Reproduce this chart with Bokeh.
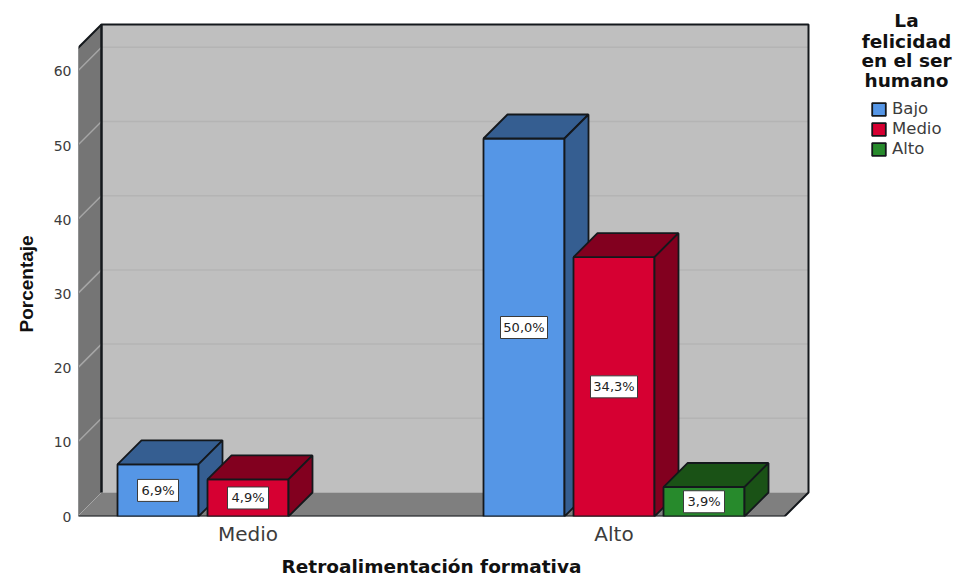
from bokeh.plotting import figure
from bokeh.embed import file_html
from bokeh.resources import INLINE
from bokeh.models import Range1d, FixedTicker, Legend, LegendItem, Title
from bokeh.core.properties import value

categories = ["Medio", "Alto"]
series_names = ["Bajo", "Medio", "Alto"]
bajo = [6.9, 50.0]
medio = [4.9, 34.3]
alto = [None, 3.9]
tick_values = [0, 10, 20, 30, 40, 50, 60]
x_title = "Retroalimentación formativa"
y_title = "Porcentaje"
legend_title = ["La", "felicidad", "en el ser", "humano"]

front_colors = ["#5596E6", "#D60032", "#278A2C"]
dark_colors = ["#355E91", "#82001F", "#1A5216"]
EDGE = "#14181c"
TEXT = "#3c3c3c"

# layout, in window pixels (the page that file_html writes has no body margin)
CANVAS_W, CANVAS_H = 955, 582
FRAME_L, FRAME_B, FRAME_T = 78, 516, 0
FRAME_R = 955
CAT_PX = [248.5, 614.5]
PX_PER_CAT = CAT_PX[1] - CAT_PX[0]
AXIS_PX_PER_UNIT = 7.42
BAR_PX_PER_UNIT = 7.56
DEPTH_PX = 24
BAR_W_PX = 81
SLOT_PX = 90


def px_x(px):
    return 1 + (px - CAT_PX[0]) / PX_PER_CAT


def px_y(px):
    return (FRAME_B - px) / AXIS_PX_PER_UNIT


p = figure(
    width=CANVAS_W, height=CANVAS_H, output_backend="svg", toolbar_location=None,
    x_range=Range1d(px_x(FRAME_L + 1), px_x(FRAME_R + 1)),
    y_range=Range1d(0, px_y(FRAME_T)),
    min_border_left=FRAME_L, min_border_right=0, min_border_top=0,
    min_border_bottom=CANVAS_H - FRAME_B,
    x_axis_location="below", y_axis_location="left",
    outline_line_color=None, background_fill_color="white", border_fill_color="white",
)
p.extra_y_ranges = {"bars": Range1d(0, (FRAME_B - FRAME_T) / BAR_PX_PER_UNIT)}
p.grid.visible = False

xax = p.xaxis[0]
xax.ticker = FixedTicker(ticks=[1, 2])
xax.major_label_overrides = {1: categories[0], 2: categories[1]}
xax.major_label_text_font = "DejaVu Sans"
xax.major_label_text_font_size = "20px"
xax.major_label_text_color = TEXT
xax.major_label_standoff = 5
xax.axis_line_color = None
xax.major_tick_line_color = None
xax.minor_tick_line_color = None
xax.major_tick_out = 0
xax.major_tick_in = 0
xax.minor_tick_out = 0

yax = p.yaxis[0]
yax.ticker = FixedTicker(ticks=tick_values)
yax.major_label_text_font = "DejaVu Sans"
yax.major_label_text_font_size = "14px"
yax.major_label_text_color = TEXT
yax.major_label_standoff = 7
yax.axis_line_color = None
yax.major_tick_line_color = None
yax.minor_tick_line_color = None
yax.major_tick_out = 0
yax.major_tick_in = 0
yax.minor_tick_out = 0

p.add_layout(Title(text=x_title, align="left", offset=203, standoff=11, vertical_align="bottom",
                   text_font="DejaVu Sans", text_font_style="bold",
                   text_font_size="18.5px", text_color="#111111"), "below")
p.add_layout(Title(text=y_title, align="left", offset=184, standoff=27, vertical_align="bottom",
                   text_font="Liberation Sans", text_font_style="bold",
                   text_font_size="19px", text_color="#111111"), "left")

# chart box: walls and floor
dx = DEPTH_PX / PX_PER_CAT
dy = DEPTH_PX / AXIS_PX_PER_UNIT
xl, xr = px_x(78), px_x(785)
top = px_y(48)
p.patch([xl + dx, xr + dx, xr + dx, xl + dx], [dy, dy, top + dy, top + dy],
        fill_color="#BFBFBF", line_color=None)
p.patch([xl, xl + dx, xl + dx, xl], [0, dy, top + dy, top],
        fill_color="#757575", line_color=None)
p.patch([xl, xr, xr + dx, xl + dx], [0, 0, dy, dy],
        fill_color="#7F7F7F", line_color=None)

grid = [t for t in tick_values if t > 0]
p.multi_line([[xl + dx, xr + dx] for _ in grid], [[t + dy, t + dy] for t in grid],
             line_color="#B4B4B4", line_width=1.5)
p.multi_line([[xl, xl + dx] for _ in grid], [[t, t + dy] for t in grid],
             line_color="#A6A6A6", line_width=1.5)
p.line([xl, xl + dx], [0, dy], line_color="#A6A6A6", line_width=1)

p.line([xl, xl, xl + dx, xr + dx, xr + dx, xr, xl],
       [0, top, top + dy, top + dy, dy, 0, 0], line_color=EDGE, line_width=2)
p.line([xl + dx, xl + dx], [dy, top + dy], line_color=EDGE, line_width=2.5)

# bars
all_values = [bajo, medio, alto]
bw = BAR_W_PX / PX_PER_CAT
slot = SLOT_PX / PX_PER_CAT
bdy = DEPTH_PX / BAR_PX_PER_UNIT
fronts = {}
label_x, label_y, label_t, label_w = [], [], [], []
for c in range(len(categories)):
    for s in range(3):
        v = all_values[s][c]
        if v is None:
            continue
        x0 = c + 1 + (s - 1) * slot - bw / 2
        x1 = x0 + bw
        r = p.quad(left=[x0], right=[x1], bottom=[0], top=[v], y_range_name="bars",
                   fill_color=front_colors[s], line_color=EDGE, line_width=1.8)
        fronts.setdefault(s, r)
        p.patch([x0, x1, x1 + dx, x0 + dx], [v, v, v + bdy, v + bdy], y_range_name="bars",
                fill_color=dark_colors[s], line_color=EDGE, line_width=1.8)
        p.patch([x1, x1 + dx, x1 + dx, x1], [0, bdy, v + bdy, v], y_range_name="bars",
                fill_color=dark_colors[s], line_color=EDGE, line_width=1.8)
        t = f"{v:.1f}%".replace(".", ",")
        label_x.append((x0 + x1) / 2)
        label_y.append(v / 2)
        label_t.append(t)
        label_w.append(17 + 6 * len(t))

p.rect(label_x, label_y, width=label_w, height=22, width_units="screen", height_units="screen",
       y_range_name="bars", fill_color="white", line_color="#3a3a3a", line_width=1)
p.text(label_x, label_y, text=label_t, y_range_name="bars", text_align="center",
       text_baseline="middle", text_font=value("DejaVu Sans"), text_font_size="13px",
       text_color="#222222")

# legend
legend_line_px = [20, 41, 60, 80]
p.text([px_x(907)] * 4, [px_y(v) for v in legend_line_px], text=legend_title,
       text_align="center", text_baseline="middle", text_font=value("DejaVu Sans"),
       text_font_style="bold", text_font_size="18.5px", text_color="#111111")
legend = Legend(
    items=[LegendItem(label=series_names[s], renderers=[fronts[s]]) for s in range(3)],
    location=(870 - FRAME_L, FRAME_B - 158),
    margin=0, padding=0, spacing=1, glyph_width=17, glyph_height=16, label_height=16,
    label_standoff=5, border_line_color=None, background_fill_alpha=0,
    label_text_font="DejaVu Sans", label_text_font_size="16.5px", label_text_color=TEXT,
)
p.add_layout(legend, "center")

open("out.html", "w").write(file_html(p, INLINE))
